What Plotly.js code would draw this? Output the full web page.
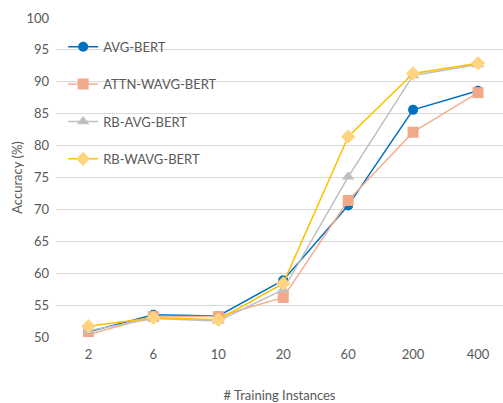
<!DOCTYPE html>
<html><head><meta charset="utf-8">
<script src="https://cdn.plot.ly/plotly-3.0.1.min.js"></script>
<style>body{margin:0;padding:0;background:#fff}#chart{width:503px;height:403px}</style>
</head><body><div id="chart"></div>
<script>
const categories = ["2","6","10","20","60","200","400"];
const avgBert = [50.8, 53.5, 53.3, 58.9, 70.6, 85.6, 88.6];
const attnWavgBert = [50.4, 53.2, 53.2, 56.2, 71.4, 82.1, 88.3];
const rbAvgBert = [51.0, 52.9, 52.5, 57.4, 75.1, 91.0, 92.7];
const rbWavgBert = [51.7, 53.0, 52.7, 58.4, 81.4, 91.3, 92.9];
const yTicks = [50,55,60,65,70,75,80,85,90,95,100];

function tr(name, y, lineColor, markerColor, symbol, size, grp){
  return {x: categories, y: y, name: name, type:'scatter', mode:'lines+markers',
    legendgroup: grp,
    line:{color: lineColor, width:1.5},
    marker:{color: markerColor, symbol: symbol, size: size}};
}
const data = [
  tr("AVG-BERT", avgBert, "#0070C0", "#0070C0", "circle", 10, "a"),
  tr("ATTN-WAVG-BERT", attnWavgBert, "#F4B08F", "#F2A98A", "square", 11, "b"),
  tr("RB-AVG-BERT", rbAvgBert, "#BFBFBF", "#BFBFBF", "triangle-up", 11, "c"),
  tr("RB-WAVG-BERT", rbWavgBert, "#FFC000", "#FFD47F", "diamond", 11, "d")
];
const font = {family: "Lato, 'Open Sans', sans-serif", size: 13, color: "#595959"};
const layout = {
  width: 503, height: 403,
  margin: {l:56, r:0, t:18, b:66},
  paper_bgcolor: "#fff", plot_bgcolor: "#fff",
  font: font,
  showlegend: true,
  legend: {x: 0.016, y: 0.957, xanchor:'left', yanchor:'top', bgcolor:'rgba(0,0,0,0)',
    traceorder:'grouped', tracegroupgap: 17.5, font: {family: font.family, size: 13, color:"#595959"}},
  xaxis: {type:'category', range:[-0.5, 6.385], showgrid:false, zeroline:false,
    showline:false, ticks:'', ticklabelstandoff: 8,
    title:{text:"# Training Instances", standoff: 32, font:{family: font.family, size:13, color:"#595959"}}},
  yaxis: {range:[50,100], tickvals: yTicks, showgrid:true, gridcolor:"#D9D9D9", gridwidth:1,
    zeroline:false, showline:false, ticks:'', ticklabelstandoff: 6,
    title:{text:"Accuracy (%)", standoff: 0, font:{family: font.family, size:13, color:"#595959"}}}
};
Plotly.newPlot('chart', data, layout, {displayModeBar:false, staticPlot:true});
</script></body></html>
